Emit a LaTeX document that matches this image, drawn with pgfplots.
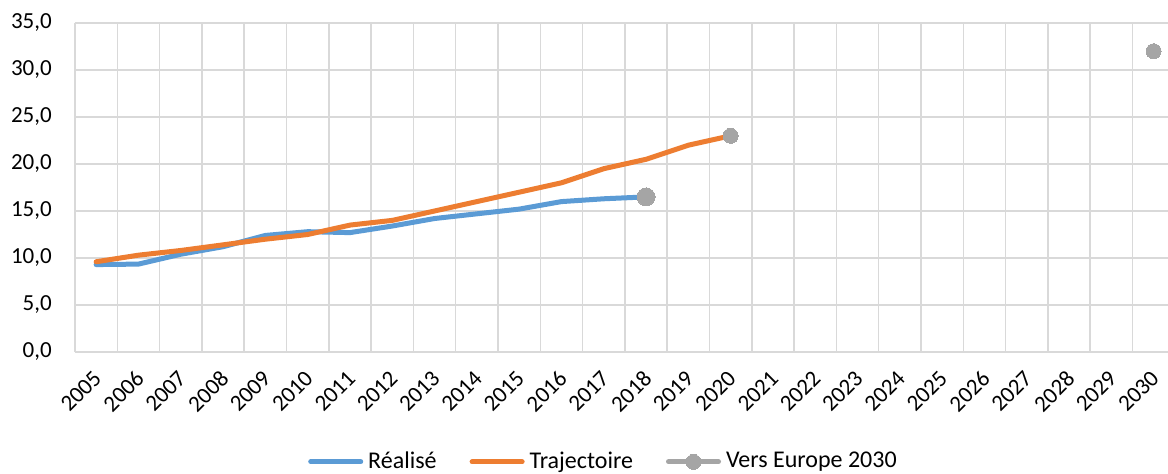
\documentclass[border=0pt]{standalone}
\usepackage{pgfplots}
\pgfplotsset{compat=1.18}
\usepackage{fontspec}
\setmainfont{Carlito}
\definecolor{cblue}{HTML}{5B9BD5}
\definecolor{corange}{HTML}{ED7D31}
\definecolor{cgray}{HTML}{A5A5A5}
\definecolor{cgrid}{HTML}{D9D9D9}
\begin{document}
\fontsize{23}{27}\selectfont
\begin{tikzpicture}
\begin{axis}[
  scale only axis,
  width=1093pt, height=329pt,
  xmin=-0.5, xmax=25.34,
  ymin=0, ymax=35,
  ytick={0,5,...,35},
  xtick={0,...,25},
  xticklabels={2005,2006,2007,2008,2009,2010,2011,2012,2013,2014,2015,2016,2017,2018,2019,2020,2021,2022,2023,2024,2025,2026,2027,2028,2029,2030},
  minor xtick={-0.5,0.5,...,24.5},
  xminorgrids=true, ymajorgrids=true, xmajorgrids=false,
  grid style={cgrid, line width=1.5pt},
  minor grid style={cgrid, line width=1.5pt},
  axis line style={draw=none},
  major tick length=0pt, minor tick length=0pt,
  tick style={draw=none},
  yticklabel style={/pgf/number format/fixed, /pgf/number format/fixed zerofill, /pgf/number format/precision=1, /pgf/number format/use comma, /pgf/number format/assume math mode=true, inner sep=0pt, xshift=-23pt},
  xticklabel style={xshift=-4pt, yshift=-17pt, rotate=45, anchor=north east, inner sep=0pt},
  unbounded coords=jump,
  legend columns=3,
  legend style={at={(0.4826,-0.334)}, anchor=center, draw=none, fill=none,
    font=\fontsize{24}{28}\selectfont,
    nodes={inner sep=0pt},
    /tikz/every odd column/.append style={column sep=5pt},
    /tikz/every even column/.append style={column sep=33pt}},
  legend image code/.code={\draw[mark repeat=2,mark phase=2,#1] plot coordinates {(0pt,0pt) (25pt,0pt) (50pt,0pt)};},
]
\addplot[cblue, line width=5pt, line cap=round, line join=round] coordinates {
 (0,9.3) (1,9.35) (2,10.4) (3,11.2) (4,12.4) (5,12.8) (6,12.7) (7,13.4) (8,14.2) (9,14.7) (10,15.2) (11,16.0) (12,16.3) (13,16.5)};
\addlegendentry{Réalisé}
\addplot[corange, line width=5pt, line cap=round, line join=round] coordinates {
 (0,9.6) (1,10.3) (2,10.8) (3,11.4) (4,12.0) (5,12.5) (6,13.5) (7,14.0) (8,15.0) (9,16.0) (10,17.0) (11,18.0) (12,19.5) (13,20.5) (14,22.0) (15,23.0)};
\addlegendentry{Trajectoire}
\addplot[cgray, line width=5pt, line cap=round, mark=*, mark size=7.5pt, mark options={cgray, line width=0pt}] coordinates {
 (15,23.0) (16,nan) (25,32.0)};
\addlegendentry{Vers Europe 2030}
\addplot[forget plot, only marks, mark=*, mark size=9pt, mark options={cgray, fill=cgray, line width=0pt}] coordinates {(13,16.5)};
\end{axis}
\pgfresetboundingbox
\path ([shift={(-75pt,-122pt)}]current axis.south west) rectangle ([shift={(1093pt,352pt)}]current axis.south west);
\end{tikzpicture}
\end{document}
